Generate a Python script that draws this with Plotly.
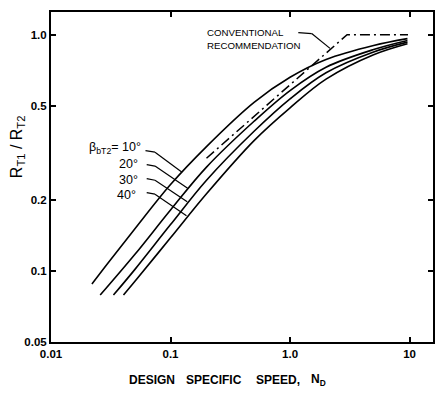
import math
import plotly.graph_objects as go

# ---- data (log-log) ----
nd_10 = [0.022, 0.03, 0.05, 0.1, 0.2, 0.5, 1.0, 2.0, 5.0, 9.6]
r_10 = [0.088, 0.108, 0.150, 0.232, 0.336, 0.517, 0.66, 0.785, 0.90, 0.962]

nd_20 = [0.0258, 0.05, 0.1, 0.2, 0.5, 1.0, 2.0, 5.0, 9.6]
r_20 = [0.079, 0.117, 0.181, 0.275, 0.430, 0.580, 0.728, 0.865, 0.945]

nd_30 = [0.0333, 0.05, 0.1, 0.2, 0.5, 1.0, 2.0, 5.0, 9.6]
r_30 = [0.079, 0.101, 0.157, 0.242, 0.390, 0.535, 0.690, 0.845, 0.930]

nd_40 = [0.0404, 0.05, 0.1, 0.2, 0.5, 1.0, 2.0, 5.0, 9.6]
r_40 = [0.079, 0.090, 0.138, 0.212, 0.356, 0.490, 0.648, 0.822, 0.915]

conv_nd = [0.2, 3.0, 9.7]
conv_r = [0.30, 1.0, 1.0]

x_tickvals = [0.01, 0.1, 1.0, 10]
x_ticktext = ["0.01", "0.1", "1.0", "10"]
y_tickvals = [0.05, 0.1, 0.2, 0.5, 1.0]
y_ticktext = ["0.05", "0.1", "0.2", "0.5", "1.0"]

beta_labels = ["β<sub>bT2</sub>= 10°", "20°", "30°", "40°"]
leader_nd = [0.124, 0.139, 0.138, 0.136]
leader_r = [0.262, 0.224, 0.196, 0.171]
conv_tip_nd = 2.16
conv_tip_r = 0.875

x_title_words = ["DESIGN", "SPECIFIC", "SPEED,", "N<sub>D</sub>"]

# ---- geometry (screen pixels; page body adds an 8px margin) ----
OFF = 8
W, H = 446 - 2 * OFF, 399 - 2 * OFF
PX0, PX1, PY0, PY1 = 51, 433, 10, 342          # plot frame on screen
L, R = PX0 - OFF, W - (PX1 - OFF)
T, B = PY0 - OFF, H - (PY1 - OFF)
PW, PH = PX1 - PX0, PY1 - PY0
XR = [-2.0, 1.196]
YR = [math.log10(0.05), 0.096]


def pxx(px):
    return (px - PX0) / PW


def pxy(py):
    return (PY1 - py) / PH


def data_px(x, y):
    px = PX0 + (math.log10(x) - XR[0]) / (XR[1] - XR[0]) * PW
    py = PY0 + (YR[1] - math.log10(y)) / (YR[1] - YR[0]) * PH
    return px, py


FONT = "Liberation Sans, Arial, sans-serif"
fig = go.Figure()

for xs, ys in [(nd_10, r_10), (nd_20, r_20), (nd_30, r_30), (nd_40, r_40)]:
    fig.add_trace(go.Scatter(x=xs, y=ys, mode="lines",
                             line=dict(color="black", width=1.6, shape="spline", smoothing=1.0),
                             showlegend=False, hoverinfo="skip"))

fig.add_trace(go.Scatter(x=conv_nd, y=conv_r, mode="lines",
                         line=dict(color="black", width=1.5, dash="10px,4px,2px,4px"),
                         showlegend=False, hoverinfo="skip"))

axis_common = dict(type="log", showline=True, linecolor="black", linewidth=2,
                   mirror="ticks", ticks="inside", ticklen=5, tickwidth=1.5,
                   tickcolor="black", showgrid=False, zeroline=False,
                   tickfont=dict(family=FONT, size=11.5, color="black", weight="bold"))

fig.update_layout(
    width=W, height=H,
    margin=dict(l=L, r=R, t=T, b=B, pad=0),
    plot_bgcolor="white", paper_bgcolor="white",
    xaxis=dict(range=XR, tickvals=x_tickvals, ticktext=x_ticktext, **axis_common),
    yaxis=dict(range=YR, tickvals=y_tickvals, ticktext=y_ticktext, **axis_common),
)

ann = []
shapes = []
# axis titles
ann.append(dict(text="R<sub>T1</sub> / R<sub>T2</sub>", xref="paper", yref="paper",
                x=pxx(17), y=pxy(146), xanchor="center", yanchor="middle",
                textangle=-90, showarrow=False,
                font=dict(family=FONT, size=16, color="black")))
for word, lx in zip(x_title_words, [127, 183.5, 254, 309]):
    ann.append(dict(text=word, xref="paper", yref="paper", x=pxx(lx), y=pxy(380),
                    xanchor="left", yanchor="middle", showarrow=False,
                    font=dict(family=FONT, size=12, color="black", weight="bold")))
# beta labels
label_pos = [(143, 147), (139.5, 163), (139.5, 179), (138, 194.5)]
for txt, (px, py) in zip(beta_labels, label_pos):
    ann.append(dict(text=txt, xref="paper", yref="paper", x=pxx(px), y=pxy(py),
                    xanchor="right", yanchor="middle", showarrow=False,
                    font=dict(family=FONT, size=12.5, color="black")))


def seg(p0, p1, w=1.2):
    shapes.append(dict(type="line", xref="paper", yref="paper",
                       x0=pxx(p0[0]), y0=pxy(p0[1]), x1=pxx(p1[0]), y1=pxy(p1[1]),
                       line=dict(color="black", width=w)))


# leader lines (short horizontal piece + diagonal to the curve)
starts = [(145.5, 149.5), (146.7, 163.5), (146.7, 177.7), (146.7, 191.7)]
bends = [(155, 151), (155, 165), (155, 179.3), (155, 193.3)]
for s, b, tx, ty in zip(starts, bends, leader_nd, leader_r):
    seg(s, b)
    seg(b, data_px(tx, ty))
# conventional recommendation
ann.append(dict(text="CONVENTIONAL", xref="paper", yref="paper", x=pxx(205), y=pxy(30.7),
                xanchor="left", yanchor="middle", showarrow=False,
                font=dict(family=FONT, size=9.7, color="black")))
ann.append(dict(text="RECOMMENDATION", xref="paper", yref="paper", x=pxx(205), y=pxy(43.3),
                xanchor="left", yanchor="middle", showarrow=False,
                font=dict(family=FONT, size=9.7, color="black")))
seg((298.3, 30.7), (311.7, 31.7))
seg((311.7, 31.7), data_px(conv_tip_nd, conv_tip_r))

fig.update_layout(annotations=ann, shapes=shapes)
fig.write_html("out.html")
